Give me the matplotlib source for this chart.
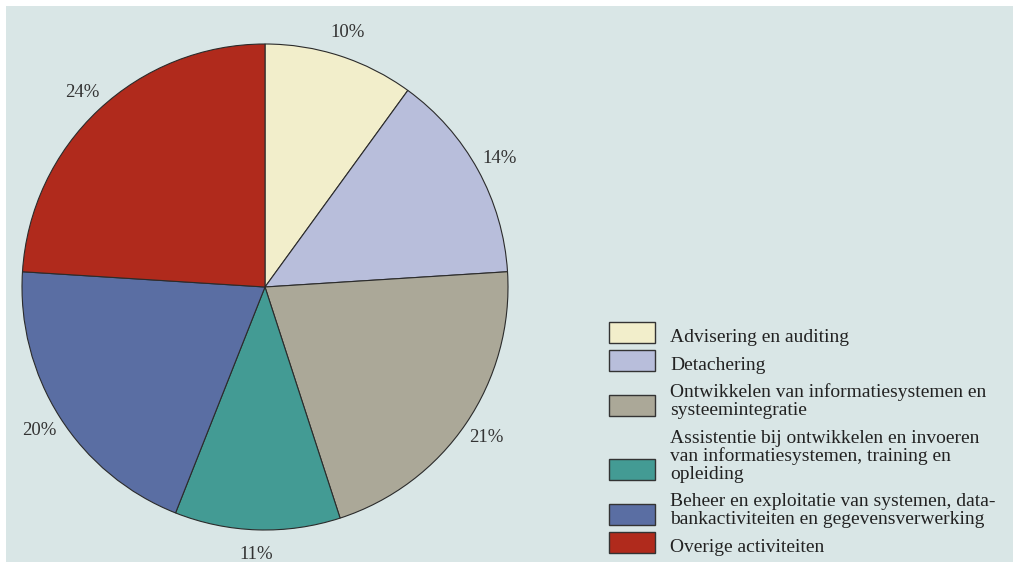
import numpy as np
import matplotlib.pyplot as plt
from matplotlib.patches import Rectangle

# share per activity, in percent
labels = [
    "Advisering en auditing",
    "Detachering",
    "Ontwikkelen van informatiesystemen en\nsysteemintegratie",
    "Assistentie bij ontwikkelen en invoeren\nvan informatiesystemen, training en\nopleiding",
    "Beheer en exploitatie van systemen, data-\nbankactiviteiten en gegevensverwerking",
    "Overige activiteiten",
]
shares = [10, 14, 21, 11, 20, 24]
colors = ["#f2eecb", "#b8bedb", "#aba898", "#439b94", "#5a6ea3", "#b02a1c"]

plt.rcParams['font.family'] = ['Liberation Serif', 'DejaVu Serif']

W, H = 1013, 562
fig = plt.figure(figsize=(W / 100, H / 100), dpi=100)
fig.patch.set_facecolor("white")


def fx(px):
    return px / W


def fy(py):
    # pixel rows counted from the top
    return 1 - py / H


# panel behind the chart
fig.patches.append(Rectangle((fx(6), 0), 1, fy(6), transform=fig.transFigure,
                             facecolor="#d9e6e6", edgecolor="none", zorder=-5))

r_px = 243
cx, cy = 265, 287
ax = fig.add_axes([fx(cx - r_px), fy(cy + r_px), 2 * r_px / W, 2 * r_px / H])
ax.set_facecolor("none")
wedges, _ = ax.pie(shares, colors=colors, startangle=90, counterclock=False,
                   wedgeprops=dict(edgecolor="#2b2b2b", linewidth=0.8))
ax.set_xlim(-1, 1)
ax.set_ylim(-1, 1)
ax.axis("off")

# percentage labels, centred just outside each wedge
for w, s in zip(wedges, shares):
    mid = np.deg2rad((w.theta1 + w.theta2) / 2)
    ax.text(1.1 * np.cos(mid), 1.1 * np.sin(mid), f"{s}%", ha="center",
            va="center", fontsize=13.5, color="#333333")

# legend: each box sits on the baseline of the entry's last line
line_h, gap = 18, 9.6
base = 342
for lab, c in zip(labels, colors):
    lines = lab.split("\n")
    for i, ln in enumerate(lines):
        fig.text(fx(670), fy(base + i * line_h), ln, fontsize=14,
                 color="#222222", va="baseline", ha="left")
    last = base + (len(lines) - 1) * line_h
    fig.patches.append(Rectangle((fx(609), fy(last + 1)), 46 / W, 21 / H,
                                 transform=fig.transFigure, facecolor=c,
                                 edgecolor="#333333", linewidth=1.0))
    base = last + line_h + gap

fig.savefig("out.png", dpi=100)
